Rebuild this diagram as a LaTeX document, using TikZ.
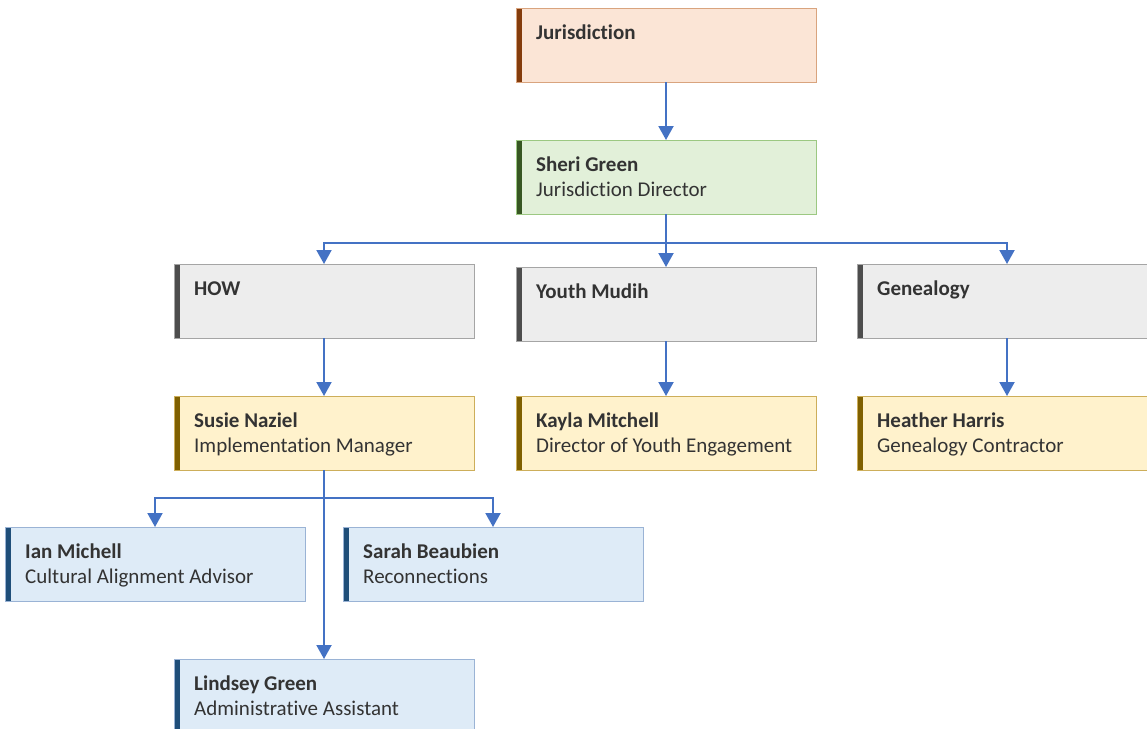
\documentclass[tikz,border=0pt]{standalone}
\usepackage{fontspec}
\setmainfont{Carlito}[Ligatures=NoCommon]
\usetikzlibrary{arrows.meta}
\definecolor{txt}{HTML}{333333}
\definecolor{conncol}{HTML}{4472C4}
\definecolor{orfill}{HTML}{FBE5D6}\definecolor{ordraw}{HTML}{D9A47E}\definecolor{orbar}{HTML}{843C0C}
\definecolor{grfill}{HTML}{E2F0D9}\definecolor{grdraw}{HTML}{9CC882}\definecolor{grbar}{HTML}{385723}
\definecolor{gyfill}{HTML}{EDEDED}\definecolor{gydraw}{HTML}{A5A5A5}\definecolor{gybar}{HTML}{4D4D4D}
\definecolor{yefill}{HTML}{FFF2CC}\definecolor{yedraw}{HTML}{CDAE5A}\definecolor{yebar}{HTML}{7F6000}
\definecolor{blfill}{HTML}{DEEBF7}\definecolor{bldraw}{HTML}{9AB3D5}\definecolor{blbar}{HTML}{1F4E79}
\tikzset{
  card/.style n args={3}{draw=#2, fill=#1, line width=1pt, rectangle, anchor=north west,
    minimum width=300pt, minimum height=74pt, inner sep=0pt, outer sep=0pt,
    path picture={\fill[#3] (path picture bounding box.north west) rectangle ([xshift=6pt]path picture bounding box.south west);}},
  orcard/.style={card={orfill}{ordraw}{orbar}},
  grcard/.style={card={grfill}{grdraw}{grbar}},
  gycard/.style={card={gyfill}{gydraw}{gybar}},
  yecard/.style={card={yefill}{yedraw}{yebar}},
  blcard/.style={card={blfill}{bldraw}{blbar}},
  nametext/.style={anchor=base west, inner sep=0pt, text=txt, font=\fontsize{21}{25}\selectfont\bfseries},
  roletext/.style={anchor=base west, inner sep=0pt, text=txt, font=\fontsize{21}{25}\selectfont},
  conn/.style={draw=conncol, line width=2pt},
  arr/.style={conn, -{Triangle[width=15pt,length=14pt]}}
}
\newcommand{\cardtext}[3]{%
  \node[nametext] (#1-n) at ([xshift=20pt,yshift=-31pt]#1.north west) {#2};
  \if\relax\detokenize{#3}\relax\else
  \node[roletext] (#1-r) at ([xshift=20pt,yshift=-56pt]#1.north west) {#3};\fi}
\begin{document}
\begin{tikzpicture}[x=1pt,y=-1pt]
\useasboundingbox (0,0) rectangle (1147,728);
\clip (0,0) rectangle (1147,728);
\fill[white] (0,0) rectangle (1147,728);
\node[orcard] (jur) at (516,8) {};
\node[grcard] (sheri) at (516,140) {};
\node[gycard] (how) at (174,264) {};
\node[gycard] (youth) at (516,267) {};
\node[gycard] (gen) at (857,264) {};
\node[yecard] (susie) at (174,396) {};
\node[yecard] (kayla) at (516,396) {};
\node[yecard] (heather) at (857,396) {};
\node[blcard] (ian) at (5,527) {};
\node[blcard] (sarah) at (343,527) {};
\node[blcard] (lindsey) at (174,659) {};
\cardtext{jur}{Jurisdiction}{}
\cardtext{sheri}{Sheri Green}{Jurisdiction Director}
\cardtext{how}{HOW}{}
\cardtext{youth}{Youth Mudih}{}
\cardtext{gen}{Genealogy}{}
\cardtext{susie}{Susie Naziel}{Implementation Manager}
\cardtext{kayla}{Kayla Mitchell}{Director of Youth Engagement}
\cardtext{heather}{Heather Harris}{Genealogy Contractor}
\cardtext{ian}{Ian Michell}{Cultural Alignment Advisor}
\cardtext{sarah}{Sarah Beaubien}{Reconnections}
\cardtext{lindsey}{Lindsey Green}{Administrative Assistant}
\coordinate (b1) at (666,243);
\coordinate (b2) at (324,498);
\draw[arr] (jur.south) -- (sheri.north);
\draw[conn] (sheri.south) -- (b1);
\draw[arr] (b1) -| (how.north);
\draw[arr] (b1) -- (youth.north);
\draw[arr] (b1) -| (gen.north);
\draw[arr] (how.south) -- (susie.north);
\draw[arr] (youth.south) -- (kayla.north);
\draw[arr] (gen.south) -- (heather.north);
\draw[arr] (susie.south) -- (lindsey.north);
\draw[arr] (b2) -| (ian.north);
\draw[arr] (b2) -| (sarah.north);
\end{tikzpicture}
\end{document}
